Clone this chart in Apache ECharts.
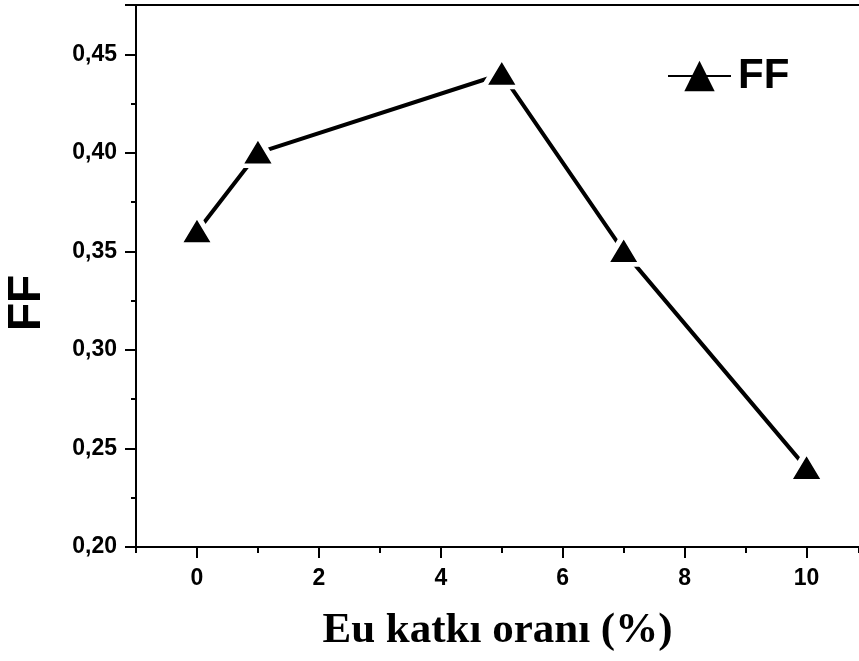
<!DOCTYPE html>
<html>
<head>
<meta charset="utf-8">
<script src="https://cdn.jsdelivr.net/npm/echarts@6/dist/echarts.min.js"></script>
<style>
html,body{margin:0;padding:0;background:#fff;}
#c{width:859px;height:661px;}
</style>
</head>
<body>
<div id="c"></div>
<script>
// Data
var seriesName = 'FF';
var xValues = [0, 1, 5, 7, 10];
var ffValues = [0.36, 0.40, 0.44, 0.35, 0.24];
var xTickLabels = [0, 2, 4, 6, 8, 10];
var yTickLabels = [0.20, 0.25, 0.30, 0.35, 0.40, 0.45];
var xTitle = 'Eu katkı oranı (%)';
var yTitle = 'FF';

var points = xValues.map(function (x, i) { return [x, ffValues[i]]; });

var chart = echarts.init(document.getElementById('c'), null, {renderer: 'canvas'});
var labelFont = {color: '#000', fontFamily: 'Liberation Sans, Arial', fontWeight: 'bold', fontSize: 23};

chart.setOption({
  animation: false,
  backgroundColor: '#fff',
  grid: {left: 136, top: 5, right: 0, bottom: 114, containLabel: false, outerBoundsMode: 'none'},
  legend: {
    data: [seriesName],
    left: 662, top: 50,
    itemWidth: 63, itemHeight: 38,
    itemStyle: {borderWidth: 0},
    textStyle: {color: '#000', fontFamily: 'Liberation Sans, Arial', fontWeight: 'bold', fontSize: 42, padding: [0, 0, 0, 2]}
  },
  xAxis: [
    {
      type: 'value', min: -1, max: 10.86, position: 'bottom',
      name: xTitle, nameLocation: 'middle', nameGap: 62,
      nameTextStyle: {color: '#000', fontFamily: 'Liberation Serif, Times New Roman', fontWeight: 'bold', fontSize: 43, padding: [0, 0, 0, 0]},
      axisLine: {show: true, onZero: false, lineStyle: {color: '#000', width: 2}},
      axisTick: {show: true, length: 11, lineStyle: {color: '#000', width: 2}, customValues: xTickLabels},
      axisLabel: Object.assign({margin: 20, customValues: xTickLabels}, labelFont),
      splitLine: {show: false}
    },
    {
      type: 'value', min: -1, max: 10.86, interval: 1, position: 'bottom',
      axisLine: {show: false},
      axisTick: {show: true, length: 6, lineStyle: {color: '#000', width: 2}},
      axisLabel: {show: false},
      splitLine: {show: false}
    },
    {
      type: 'value', min: -1, max: 10.86, position: 'top',
      axisLine: {show: true, onZero: false, lineStyle: {color: '#000', width: 2}},
      axisTick: {show: false}, axisLabel: {show: false}, splitLine: {show: false}
    }
  ],
  yAxis: {
    type: 'value', min: 0.20, max: 0.475, interval: 0.05,
    name: yTitle, nameLocation: 'middle', nameGap: 86, nameRotate: 90,
    nameTextStyle: {color: '#000', fontFamily: 'Liberation Sans, Arial', fontWeight: 'bold', fontSize: 46, padding: [0, 54, 0, 0]},
    axisLine: {show: true, onZero: false, lineStyle: {color: '#000', width: 2}},
    axisTick: {show: true, length: 11, lineStyle: {color: '#000', width: 2}},
    minorTick: {show: true, splitNumber: 2, length: 5, lineStyle: {color: '#000', width: 2}},
    axisLabel: Object.assign({
      margin: 19, showMaxLabel: false,
      formatter: function (v) { return v.toFixed(2).replace('.', ','); }
    }, labelFont),
    splitLine: {show: false}
  },
  series: [{
    name: seriesName,
    type: 'line',
    xAxisIndex: 0,
    data: points,
    symbol: 'triangle',
    symbolSize: [36, 30],
    symbolOffset: [0, -2],
    lineStyle: {color: '#000', width: 4},
    itemStyle: {color: '#000', borderColor: '#fff', borderWidth: 5}
  }]
});
</script>
</body>
</html>
